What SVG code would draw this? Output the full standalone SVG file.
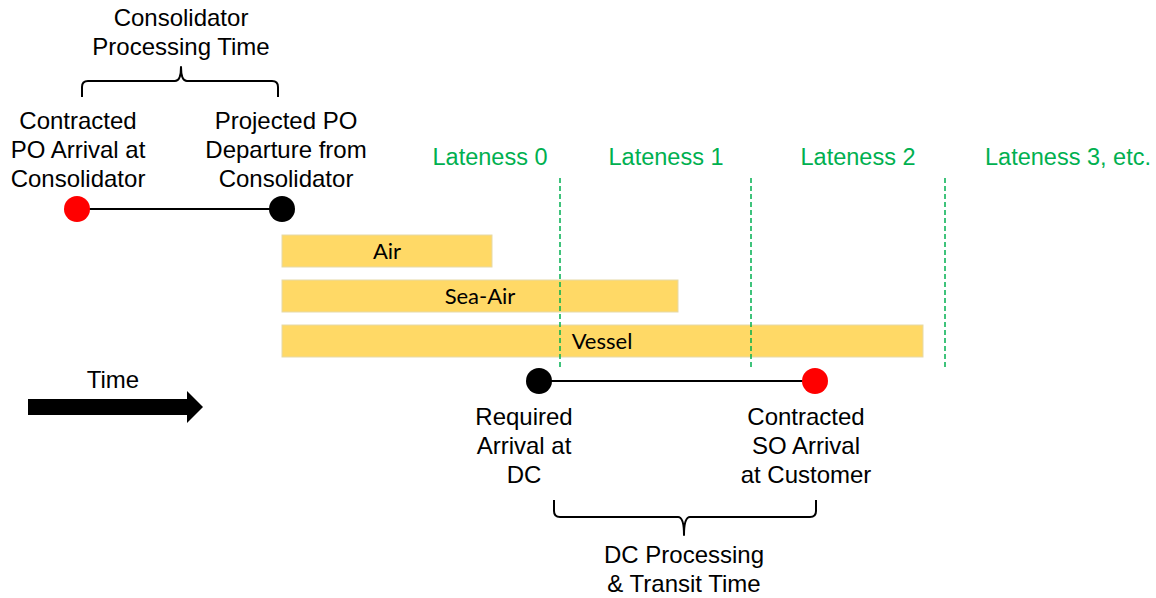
<svg xmlns="http://www.w3.org/2000/svg" width="1156" height="598" viewBox="0 0 1156 598">
  <style>
    .lbl { font-family: "Liberation Sans", Arial, sans-serif; font-size: 24px; fill: #000; text-anchor: middle; }
    .late { font-family: "Liberation Sans", Arial, sans-serif; font-size: 23.5px; fill: #00B050; text-anchor: middle; }
    .bar { fill: #FFD966; stroke: #E6D9A8; stroke-width: 1; }
    .barlbl { font-family: Lato, "Open Sans", sans-serif; font-size: 22px; fill: #000; text-anchor: middle; }
    .link { stroke: #000; stroke-width: 2; fill: none; }
    .brace { stroke: #000; stroke-width: 2; fill: none; stroke-linejoin: round; }
    .divider { stroke: #00B050; stroke-width: 1.5; stroke-dasharray: 5 3; }
  </style>

  <!-- lateness band labels -->
  <g id="lateness-labels">
    <text class="late" x="490" y="165">Lateness 0</text>
    <text class="late" x="666" y="165">Lateness 1</text>
    <text class="late" x="858" y="165">Lateness 2</text>
    <text class="late" x="1068" y="165">Lateness 3, etc.</text>
  </g>

  <!-- transport mode bars -->
  <g id="bar-air">
    <rect class="bar" x="282" y="235" width="210" height="32"/>
    <text class="barlbl" x="387" y="259">Air</text>
  </g>
  <g id="bar-sea-air">
    <rect class="bar" x="282" y="280" width="396" height="32"/>
    <text class="barlbl" x="480" y="304">Sea-Air</text>
  </g>
  <g id="bar-vessel">
    <rect class="bar" x="282" y="325" width="641" height="32"/>
    <text class="barlbl" x="602" y="349">Vessel</text>
  </g>

  <!-- lateness dividers -->
  <g id="dividers">
    <line class="divider" x1="560" y1="178" x2="560" y2="368"/>
    <line class="divider" x1="751" y1="178" x2="751" y2="368"/>
    <line class="divider" x1="945" y1="178" x2="945" y2="368"/>
  </g>

  <!-- connectors -->
  <g id="connectors">
    <line class="link" x1="77" y1="209" x2="282" y2="209"/>
    <line class="link" x1="539" y1="381" x2="815" y2="381"/>
    <!-- brace over the consolidator interval -->
    <path class="brace" d="M82,97 V87 Q82,81 88,81 H175 Q181,81 181,67 Q181,81 187,81 H272 Q278,81 278,87 V97"/>
    <!-- brace under the DC interval -->
    <path class="brace" d="M554,500 V511 Q554,517 560,517 H678 Q684,517 684,535 Q684,517 690,517 H810 Q816,517 816,511 V500"/>
  </g>

  <!-- timeline nodes -->
  <g id="node-po-arrival">
    <circle cx="77" cy="209" r="13" fill="#FF0000"/>
    <text class="lbl" x="78" y="129">Contracted</text>
    <text class="lbl" x="78" y="158">PO Arrival at</text>
    <text class="lbl" x="78" y="187">Consolidator</text>
  </g>
  <g id="node-po-departure">
    <circle cx="282" cy="209" r="13" fill="#000"/>
    <text class="lbl" x="286" y="129">Projected PO</text>
    <text class="lbl" x="286" y="158">Departure from</text>
    <text class="lbl" x="286" y="187">Consolidator</text>
  </g>
  <g id="consolidator-time">
    <text class="lbl" x="181" y="26">Consolidator</text>
    <text class="lbl" x="181" y="55">Processing Time</text>
  </g>

  <g id="node-dc-arrival">
    <circle cx="539" cy="381" r="13" fill="#000"/>
    <text class="lbl" x="524" y="425">Required</text>
    <text class="lbl" x="524" y="454">Arrival at</text>
    <text class="lbl" x="524" y="483">DC</text>
  </g>
  <g id="node-so-arrival">
    <circle cx="815" cy="381" r="13" fill="#FF0000"/>
    <text class="lbl" x="806" y="425">Contracted</text>
    <text class="lbl" x="806" y="454">SO Arrival</text>
    <text class="lbl" x="806" y="483">at Customer</text>
  </g>
  <g id="dc-time">
    <text class="lbl" x="684" y="563">DC Processing</text>
    <text class="lbl" x="684" y="592">&amp; Transit Time</text>
  </g>

  <!-- time axis arrow -->
  <g id="time-arrow">
    <polygon points="28,399 187,399 187,391 203,407 187,423 187,415 28,415" fill="#000"/>
    <text class="lbl" x="113" y="388">Time</text>
  </g>
</svg>
